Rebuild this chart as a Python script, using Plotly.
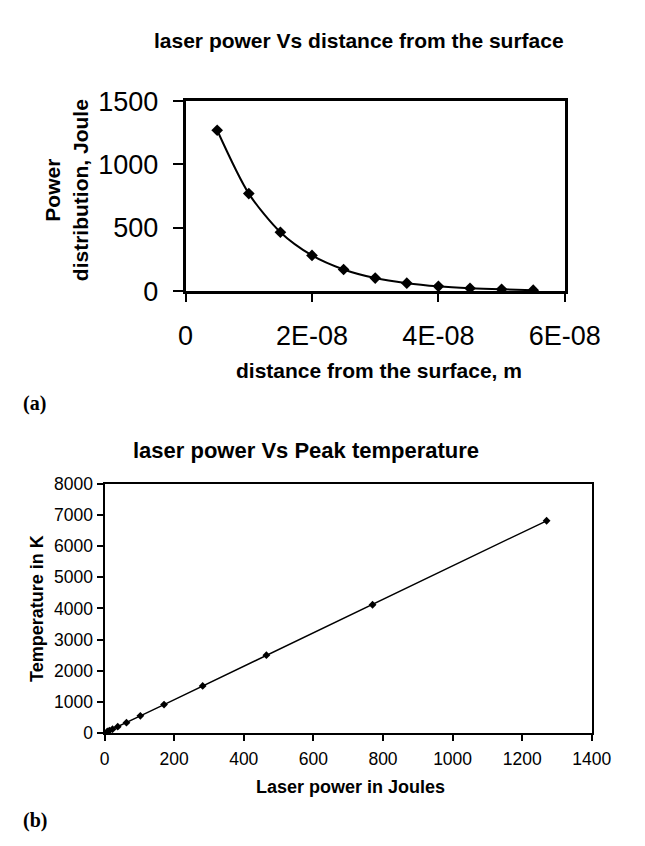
import plotly.graph_objects as go

# Data
distance_m = [0.5e-8, 1.0e-8, 1.5e-8, 2.0e-8, 2.5e-8, 3.0e-8, 3.5e-8, 4.0e-8, 4.5e-8, 5.0e-8, 5.5e-8]
power_joule = [1270, 770, 465, 282, 171, 103, 63, 38, 23, 14, 8]
laser_power = [1270, 770, 465, 282, 171, 103, 63, 38, 23, 14, 8]
peak_temp_K = [6820, 4120, 2500, 1510, 910, 550, 330, 200, 120, 75, 45]

top_xticks = [0, 2e-8, 4e-8, 6e-8]
top_xtext = ["0", "2E-08", "4E-08", "6E-08"]
top_yticks = [0, 500, 1000, 1500]
bot_xticks = [0, 200, 400, 600, 800, 1000, 1200, 1400]
bot_yticks = [0, 1000, 2000, 3000, 4000, 5000, 6000, 7000, 8000]

W, H = 645, 846
FONT = "Liberation Sans, Arial, sans-serif"

def px(x):
    return x / W

def py(y):
    return 1 - y / H

fig = go.Figure()
fig.add_trace(go.Scatter(
    x=distance_m, y=power_joule, mode="lines+markers",
    line=dict(color="black", width=2, shape="spline", smoothing=0.8),
    marker=dict(symbol="diamond", size=9, color="black"),
    xaxis="x", yaxis="y", showlegend=False))
fig.add_trace(go.Scatter(
    x=laser_power, y=peak_temp_K, mode="lines+markers",
    line=dict(color="black", width=1.4),
    marker=dict(symbol="diamond", size=6, color="black"),
    xaxis="x2", yaxis="y2", showlegend=False))

axis_common = dict(showgrid=False, zeroline=False, showline=True, linecolor="black",
                   mirror=True, ticks="outside", tickcolor="black", color="black")

fig.update_layout(
    width=W, height=H, margin=dict(l=0, r=0, t=0, b=0),
    paper_bgcolor="white", plot_bgcolor="white",
    font=dict(family=FONT, color="black"),
    xaxis=dict(domain=[px(182), px(589)], anchor="y", range=[0, 6e-8],
               tickvals=top_xticks, ticktext=top_xtext, ticklen=8, linewidth=2.6,
               tickwidth=2, ticklabelstandoff=11,
               tickfont=dict(size=27, family=FONT), **axis_common),
    yaxis=dict(domain=[py(278), py(81)], anchor="x", range=[0, 1500],
               tickvals=top_yticks, ticklen=10, linewidth=2.6, tickwidth=2,
               ticklabelstandoff=9,
               tickfont=dict(size=27, family=FONT), **axis_common),
    xaxis2=dict(domain=[px(95), px(618)], anchor="y2", range=[0, 1400],
                tickvals=bot_xticks, ticklen=6, linewidth=2, tickwidth=1.5,
                ticklabelstandoff=3,
                tickfont=dict(size=17.5, family=FONT), **axis_common),
    yaxis2=dict(domain=[py(736), py(478)], anchor="x2", range=[0, 8000],
                tickvals=bot_yticks, ticklen=6, linewidth=2, tickwidth=1.5,
                tickfont=dict(size=17.5, family=FONT), **axis_common),
)

ann = [
    dict(text="<b>laser power Vs distance from the surface</b>", x=px(368), y=py(18), size=21, angle=0),
    dict(text="<b>distance from the surface, m</b>", x=px(390), y=py(360), size=21, angle=0),
    dict(text="<b>Power<br>distribution, Joule</b>", x=px(54), y=py(173), size=21, angle=-90),
    dict(text="<b>laser power Vs Peak temperature</b>", x=px(311), y=py(443), size=22, angle=0),
    dict(text="<b>Laser power in Joules</b>", x=px(359), y=py(792), size=18, angle=0),
    dict(text="<b>Temperature in K</b>", x=px(23), y=py(607), size=18, angle=-90),
]
for a in ann:
    fig.add_annotation(text=a["text"], x=a["x"], y=a["y"], xref="paper", yref="paper",
                       showarrow=False, textangle=a["angle"], xanchor="center", yanchor="middle",
                       font=dict(size=a["size"], family=FONT, color="black"))

for lbl, y in [("(a)", 395), ("(b)", 827)]:
    fig.add_annotation(text=f"<b>{lbl}</b>", x=px(5), y=py(y), xref="paper", yref="paper",
                       showarrow=False, xanchor="left", yanchor="middle",
                       font=dict(size=20, family="Liberation Serif, Times New Roman, serif", color="black"))

fig.write_html("out.html")
